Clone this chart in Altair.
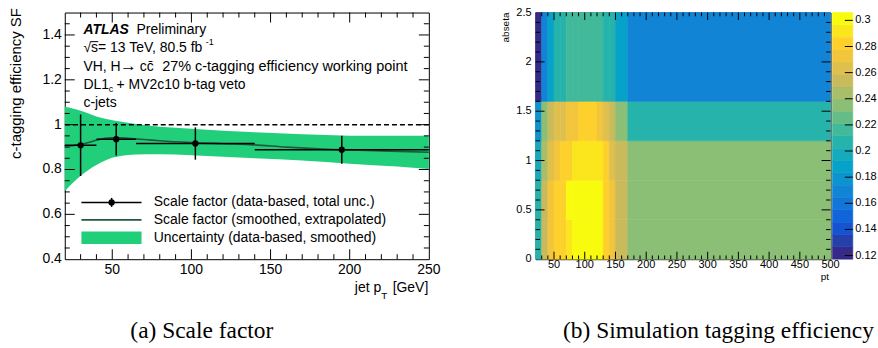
import altair as alt
import pandas as pd
import numpy as np

FONT = "Liberation Sans"
SERIF = "Liberation Serif"

# ---------------- (a) scale factor data ----------------
sf_pt = [30.0, 52.5, 102.5, 195.0]
sf_bin_lo = [20, 40, 65, 140]
sf_bin_hi = [40, 65, 140, 250]
sf_val = [0.908, 0.935, 0.916, 0.888]
sf_err = [0.137, 0.072, 0.072, 0.062]

band_pt = [20, 25, 30, 35, 40, 47, 55, 65, 80, 100, 120, 140, 170, 200, 230, 250]
band_up = [1.080, 1.072, 1.062, 1.050, 1.036, 1.024, 1.014, 1.003, 0.991, 0.982,
           0.973, 0.966, 0.957, 0.951, 0.950, 0.951]
band_lo = [0.703, 0.740, 0.772, 0.798, 0.820, 0.845, 0.860, 0.867, 0.868, 0.864,
           0.857, 0.850, 0.840, 0.826, 0.813, 0.802]

smooth_pt = [20, 25, 30, 35, 41, 49, 55, 60, 70, 80, 100, 120, 137, 160, 194, 220, 250]
smooth_sf = [0.903, 0.906, 0.912, 0.920, 0.933, 0.941, 0.941, 0.939, 0.934, 0.928,
             0.920, 0.915, 0.911, 0.900, 0.888, 0.883, 0.877]

ref_line = [1.0]

x_ticks_l = [50, 100, 150, 200, 250]
x_labels_l = ["50", "100", "150", "200", "250"]
y_ticks_l = [0.4, 0.6, 0.8, 1.0, 1.2, 1.4]
y_labels_l = ["0.4", "0.6", "0.8", "1", "1.2", "1.4"]

# ---------------- (b) efficiency map data ----------------
pt_edges = [20, 30, 40, 50, 60, 70, 80, 90, 120, 130, 140, 150, 170, 500]
eta_edges = [0.0, 0.4, 0.8, 1.2, 1.6, 2.5]
eff_eta0 = [0.207, 0.254, 0.273, 0.283, 0.286, 0.288, 0.302, 0.304, 0.301, 0.285, 0.274, 0.255, 0.236]
eff_eta1 = [0.206, 0.253, 0.272, 0.282, 0.287, 0.300, 0.303, 0.305, 0.302, 0.284, 0.272, 0.256, 0.235]
eff_eta2 = [0.198, 0.244, 0.263, 0.275, 0.281, 0.283, 0.293, 0.295, 0.292, 0.282, 0.264, 0.253, 0.236]
eff_eta3 = [0.178, 0.237, 0.254, 0.262, 0.266, 0.272, 0.274, 0.284, 0.273, 0.263, 0.255, 0.238, 0.207]
eff_eta4 = [0.118, 0.168, 0.189, 0.206, 0.208, 0.217, 0.219, 0.218, 0.216, 0.208, 0.206, 0.187, 0.166]
eff_rows = [eff_eta0, eff_eta1, eff_eta2, eff_eta3, eff_eta4]

x_ticks_r = [50, 100, 150, 200, 250, 300, 350, 400, 450, 500]
x_labels_r = ["50", "100", "150", "200", "250", "300", "350", "400", "450", "500"]
y_ticks_r = [0, 0.5, 1.0, 1.5, 2.0, 2.5]
y_labels_r = ["0", "0.5", "1", "1.5", "2", "2.5"]

cb_min, cb_max = 0.1172, 0.306
cb_ticks = [0.12, 0.14, 0.16, 0.18, 0.2, 0.22, 0.24, 0.26, 0.28, 0.3]
cb_labels = ["0.12", "0.14", "0.16", "0.18", "0.2", "0.22", "0.24", "0.26", "0.28", "0.3"]

# ---------------- palette (ROOT kBird, 20 contours) ----------------
st = [0.0, 0.125, 0.25, 0.375, 0.5, 0.625, 0.75, 0.875, 1.0]
rr = [0.2082, 0.0592, 0.0780, 0.0232, 0.1802, 0.5301, 0.8186, 0.9956, 0.9764]
gg = [0.1664, 0.3599, 0.5041, 0.6419, 0.7178, 0.7492, 0.7328, 0.7862, 0.9832]
bb = [0.5293, 0.8684, 0.8385, 0.7914, 0.6425, 0.4662, 0.3499, 0.1968, 0.0539]
NLEV = 20
palette = []
for t in np.linspace(0, 1, NLEV):
    c = [int(round(255 * np.interp(t, st, ch))) for ch in (rr, gg, bb)]
    palette.append("#%02x%02x%02x" % tuple(c))

GREEN = "#21cf7a"
DARK = "#1e5a3c"

LW, LH = 365.3, 247.5
RW, RH = 296.0, 247.5

one = pd.DataFrame({"k": [0]})


def txt(s, x, y, size=14, font=FONT, align="left", baseline="alphabetic", **kw):
    return alt.Chart(one).mark_text(text=s, font=font, fontSize=size, align=align,
                                    baseline=baseline, color="black", **kw).encode(
        x=alt.value(x), y=alt.value(y))


def hline(x0, x1, y, color="black", w=1.0):
    return alt.Chart(one).mark_rule(color=color, strokeWidth=w).encode(
        x=alt.value(x0), x2=alt.value(x1), y=alt.value(y))


def inner_ticks(xs, ys, xmaj, xmin, ymaj, ymin, W, H, lx, ly):
    layers = []
    for vals, L in ((xmaj, lx), (xmin, lx / 2)):
        d = pd.DataFrame({"v": vals})
        layers.append(alt.Chart(d).mark_rule(color="black", strokeWidth=1).encode(
            x=alt.X("v:Q", scale=xs, axis=None), y=alt.value(H), y2=alt.value(H - L)))
        layers.append(alt.Chart(d).mark_rule(color="black", strokeWidth=1).encode(
            x=alt.X("v:Q", scale=xs, axis=None), y=alt.value(0), y2=alt.value(L)))
    for vals, L in ((ymaj, ly), (ymin, ly / 2)):
        d = pd.DataFrame({"v": vals})
        layers.append(alt.Chart(d).mark_rule(color="black", strokeWidth=1).encode(
            y=alt.Y("v:Q", scale=ys, axis=None), x=alt.value(0), x2=alt.value(L)))
        layers.append(alt.Chart(d).mark_rule(color="black", strokeWidth=1).encode(
            y=alt.Y("v:Q", scale=ys, axis=None), x=alt.value(W), x2=alt.value(W - L)))
    return layers


def x_labels(xs, vals, labs, y, size):
    d = pd.DataFrame({"v": vals, "lab": labs})
    return alt.Chart(d).mark_text(font=FONT, fontSize=size, align="center",
                                  baseline="middle", color="black").encode(
        x=alt.X("v:Q", scale=xs, axis=None), y=alt.value(y), text="lab:N")


def y_labels(ys, vals, labs, x, size, align="right"):
    d = pd.DataFrame({"v": vals, "lab": labs})
    return alt.Chart(d).mark_text(font=FONT, fontSize=size, align=align,
                                  baseline="middle", color="black").encode(
        y=alt.Y("v:Q", scale=ys, axis=None), x=alt.value(x), text="lab:N")


# ================= left panel =================
xs_l = alt.Scale(domain=[20, 250], nice=False, zero=False)
ys_l = alt.Scale(domain=[0.4, 1.5], nice=False, zero=False)

band_df = pd.DataFrame({"pt": band_pt, "lo": band_lo, "hi": band_up})
band = alt.Chart(band_df).mark_area(color=GREEN, interpolate="monotone", opacity=1).encode(
    x=alt.X("pt:Q", scale=xs_l, axis=None),
    y=alt.Y("lo:Q", scale=ys_l, axis=None),
    y2="hi:Q")

ref = alt.Chart(pd.DataFrame({"y": ref_line})).mark_rule(
    color="black", strokeWidth=1.5, strokeDash=[5, 3]).encode(
    y=alt.Y("y:Q", scale=ys_l, axis=None))

smooth = alt.Chart(pd.DataFrame({"pt": smooth_pt, "sf": smooth_sf})).mark_line(
    color=DARK, strokeWidth=1.6, interpolate="monotone").encode(
    x=alt.X("pt:Q", scale=xs_l, axis=None), y=alt.Y("sf:Q", scale=ys_l, axis=None))

pts_df = pd.DataFrame({"pt": sf_pt, "sf": sf_val, "blo": sf_bin_lo, "bhi": sf_bin_hi,
                       "elo": np.array(sf_val) - np.array(sf_err),
                       "ehi": np.array(sf_val) + np.array(sf_err)})
vbar = alt.Chart(pts_df).mark_rule(color="black", strokeWidth=1.5).encode(
    x=alt.X("pt:Q", scale=xs_l, axis=None), y=alt.Y("elo:Q", scale=ys_l, axis=None), y2="ehi:Q")
hbar = alt.Chart(pts_df).mark_rule(color="black", strokeWidth=1.5).encode(
    x=alt.X("blo:Q", scale=xs_l, axis=None), x2="bhi:Q", y=alt.Y("sf:Q", scale=ys_l, axis=None))
pts = alt.Chart(pts_df).mark_circle(color="black", size=40, opacity=1).encode(
    x=alt.X("pt:Q", scale=xs_l, axis=None), y=alt.Y("sf:Q", scale=ys_l, axis=None))

xmaj_l = [50, 100, 150, 200]
xmin_l = [v for v in range(30, 250, 10) if v % 50 != 0]
ymaj_l = [0.6, 0.8, 1.0, 1.2, 1.4]
ymin_l = [round(0.45 + 0.05 * i, 2) for i in range(21)]
ymin_l = [v for v in ymin_l if abs(round(v / 0.2) * 0.2 - v) > 1e-6 and v < 1.5]
ticks_l = inner_ticks(xs_l, ys_l, xmaj_l, xmin_l, ymaj_l, ymin_l, LW, LH, 10, 10)

# legend
leg = [
    hline(16.7, 77, 190.5, w=1.5),
    alt.Chart(one).mark_rule(color="black", strokeWidth=1.5).encode(
        x=alt.value(47), y=alt.value(186), y2=alt.value(195)),
    alt.Chart(one).mark_circle(color="black", size=40, opacity=1).encode(
        x=alt.value(47), y=alt.value(190.5)),
    hline(16.7, 77, 208, color=DARK, w=1.6),
    alt.Chart(one).mark_rect(color=GREEN).encode(
        x=alt.value(16.7), x2=alt.value(77), y=alt.value(219.8), y2=alt.value(232.2)),
    txt("Scale factor (data-based, total unc.)", 89.3, 190.5, baseline="middle"),
    txt("Scale factor (smoothed, extrapolated)", 89.3, 208, baseline="middle"),
    txt("Uncertainty (data-based, smoothed)", 89.3, 226, baseline="middle"),
]

labels_l = [
    x_labels(xs_l, x_ticks_l, x_labels_l, LH + 11, 14),
    y_labels(ys_l, y_ticks_l, y_labels_l, -3, 14),
    txt("c-tagging efficiency SF", -49, -4.5, size=15, angle=270, align="right",
        baseline="middle"),
    txt("ATLAS", 18.7, 21.2, fontWeight="bold", fontStyle="italic"),
    txt("Preliminary", 72, 21.2),
    txt("\u221as= 13 TeV, 80.5 fb", 18.7, 39.8),
    hline(26.2, 33.6, 29.2),
    txt("-1", 141.5, 33, size=9),
    txt("VH, H", 18.7, 58.8),
    txt("\u2192", 55.5, 58.8, size=17),
    txt("cc\u0304", 75.3, 58.8),
    txt("27% c-tagging efficiency working point", 97.7, 58.8, size=14.5),
    txt("DL1", 18.7, 76.5),
    txt("c", 44, 80, size=9),
    txt("+ MV2c10 b-tag veto", 52, 76.5),
    txt("c-jets", 18.7, 94.5),
    txt("jet p", 291, 280),
    txt("T", 317.5, 287, size=10),
    txt("[GeV]", 329, 280),
    txt("(a) Scale factor", 137.5, 326.5, size=23.5, font=SERIF, align="center"),
]

left = alt.layer(band, ref, *ticks_l, smooth, hbar, vbar, pts, *leg, *labels_l).properties(
    width=LW, height=LH)

# ================= right panel =================
xs_r = alt.Scale(domain=[20, 500], nice=False, zero=False)
ys_r = alt.Scale(domain=[0, 2.5], nice=False, zero=False)
cs = alt.Scale(type="quantize", domain=[cb_min, cb_max], range=palette, nice=False, zero=False)

rows = []
for i, row in enumerate(eff_rows):
    for j, v in enumerate(row):
        rows.append({"pt_lo": pt_edges[j], "pt_hi": pt_edges[j + 1],
                     "eta_lo": eta_edges[i], "eta_hi": eta_edges[i + 1], "eff": v})
heat_df = pd.DataFrame(rows)

heat = alt.Chart(heat_df).mark_rect(strokeWidth=0.6).encode(
    x=alt.X("pt_lo:Q", scale=xs_r, axis=None),
    x2="pt_hi:Q",
    y=alt.Y("eta_lo:Q", scale=ys_r, axis=None),
    y2="eta_hi:Q",
    color=alt.Color("eff:Q", scale=cs, legend=None),
    stroke=alt.Stroke("eff:Q", scale=cs, legend=None))

xmaj_r = [50, 100, 150, 200, 250, 300, 350, 400, 450]
xmin_r = [v for v in range(30, 500, 10) if v % 50 != 0]
ymaj_r = [0.5, 1.0, 1.5, 2.0]
ymin_r = [round(0.1 * i, 1) for i in range(1, 25) if i % 5 != 0]
ticks_r = inner_ticks(xs_r, ys_r, xmaj_r, xmin_r, ymaj_r, ymin_r, RW, RH, 7.5, 9)

heat_layer = alt.layer(
    heat, *ticks_r,
    x_labels(xs_r, x_ticks_r, x_labels_r, RH + 6.3, 11),
    y_labels(ys_r, y_ticks_r, y_labels_r, -4, 11),
    txt("abseta", -30, 0, size=10, angle=270, align="right", baseline="middle"),
    txt("pt", 294.5, RH + 18, size=10, align="right", baseline="middle"),
    txt("(b) Simulation tagging efficiency", 183.5, 326.5, size=23.5,
        font=SERIF, align="center"))

# colour bar
lev = np.linspace(cb_min, cb_max, NLEV + 1)
cb_df = pd.DataFrame({"lo": lev[:-1], "hi": lev[1:], "mid": (lev[:-1] + lev[1:]) / 2})
ys_cb = alt.Scale(domain=[cb_min, cb_max], nice=False, zero=False)
CB0, CB1 = RW + 1.8, RW + 22.3
cbar = alt.Chart(cb_df).mark_rect(strokeWidth=0.6).encode(
    x=alt.value(CB0), x2=alt.value(CB1),
    y=alt.Y("lo:Q", scale=ys_cb, axis=None),
    y2="hi:Q",
    color=alt.Color("mid:Q", scale=cs, legend=None),
    stroke=alt.Stroke("mid:Q", scale=cs, legend=None))
cb_tk = alt.Chart(pd.DataFrame({"v": cb_ticks})).mark_rule(color="black", strokeWidth=1).encode(
    y=alt.Y("v:Q", scale=ys_cb, axis=None), x=alt.value(CB1 - 8), x2=alt.value(CB1))
cb_layer = alt.layer(cbar, cb_tk, y_labels(ys_cb, cb_ticks, cb_labels, CB1 + 2.5, 11, align="left"))

right = alt.layer(heat_layer, cb_layer).resolve_scale(y="independent").properties(
    width=RW, height=RH)

chart = alt.hconcat(left, right, spacing=535.7 - 64 - LW, bounds="flush").properties(
    padding={"left": 8, "top": 5, "right": 0, "bottom": 0},
    background="white",
).configure_view(stroke="black", strokeWidth=1)

chart.save("out.html", embed_options={"renderer": "svg", "actions": False})
